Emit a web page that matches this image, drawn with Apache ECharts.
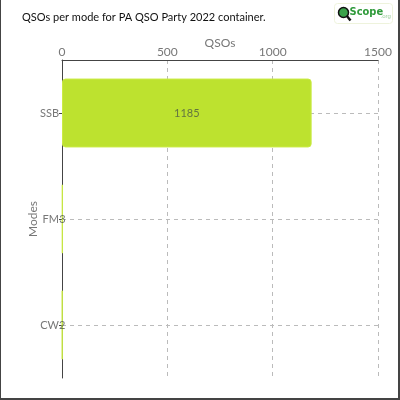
<!DOCTYPE html>
<html><head><meta charset="utf-8">
<script src="https://cdn.jsdelivr.net/npm/echarts@6/dist/echarts.min.js"></script>
<style>
html,body{margin:0;padding:0;background:#fff;}
#c{width:400px;height:400px;box-sizing:border-box;border-left:1px solid #444;border-right:2px solid #444;border-bottom:2px solid #444;}
</style></head>
<body><div id="c"></div>
<script>
const modes = ['SSB', 'FM', 'CW'];
const qsos = [1185, 3, 2];
const xTicks = [0, 500, 1000, 1500];
const titleText = 'QSOs per mode for PA QSO Party 2022 container.';

const FONT = 'Lato';
const chart = echarts.init(document.getElementById('c'), null, {renderer: 'canvas'});
const halfSteps = [];
modes.forEach((m, i) => { halfSteps.push('b' + i); halfSteps.push(m); });
halfSteps.push('end');

chart.setOption({
  animation: false,
  textStyle: {fontFamily: FONT},
  title: {text: titleText, left: 16, top: 7,
    textStyle: {fontFamily: FONT, fontSize: 11, fontWeight: 'normal', color: '#111'}},
  grid: {left: 61, right: 20, top: 60, bottom: 20, containLabel: false},
  xAxis: {
    type: 'value', position: 'top', min: xTicks[0], max: xTicks[xTicks.length - 1], interval: 500,
    name: 'QSOs', nameLocation: 'middle', nameGap: 11, nameMoveOverlap: false,
    nameTextStyle: {color: '#777', fontSize: 12, fontFamily: FONT},
    axisLine: {show: true, lineStyle: {color: '#444', width: 1}},
    axisTick: {show: false},
    axisLabel: {color: '#777', fontSize: 12, margin: 2, fontFamily: FONT, formatter: (v) => String(v)},
    splitLine: {show: true, lineStyle: {color: '#bbb', type: [4, 4]}}
  },
  yAxis: [{
    type: 'category', data: modes, inverse: true,
    name: 'Modes', nameLocation: 'middle', nameGap: 23, nameMoveOverlap: false,
    nameTextStyle: {color: '#777', fontSize: 12, fontFamily: FONT},
    axisLine: {show: true, lineStyle: {color: '#444', width: 1}},
    axisTick: {show: true, alignWithLabel: true, length: 3, lineStyle: {color: '#444'}},
    axisLabel: {color: '#777', fontSize: 11, margin: 3, fontFamily: FONT},
    splitLine: {show: false}
  }, {
    type: 'category', data: halfSteps, boundaryGap: false, inverse: true, position: 'left',
    axisLine: {show: false}, axisTick: {show: false}, axisLabel: {show: false},
    splitLine: {show: true, interval: (i) => i % 2 === 1, lineStyle: {color: '#bbb', type: [4, 4]}}
  }],
  series: [{
    type: 'bar', yAxisIndex: 0, data: qsos, barCategoryGap: '35%',
    itemStyle: {color: '#bde22f', borderColor: '#cbeb45', borderWidth: 1, borderRadius: 3},
    label: {show: true, position: 'inside', color: 'rgba(70,80,70,0.75)', fontSize: 11, fontFamily: FONT}
  }],
  graphic: [{
    type: 'group', left: 333, top: 3, children: [
      {type: 'rect', shape: {x: 0, y: 0, width: 58, height: 20, r: 3}, style: {fill: '#fff', stroke: '#eef3dc', lineWidth: 1}},
      {type: 'line', shape: {x1: 12, y1: 12, x2: 16, y2: 17}, style: {stroke: '#111', lineWidth: 2.5}},
      {type: 'circle', shape: {cx: 9, cy: 9, r: 5}, style: {fill: '#3aa24a', stroke: '#111', lineWidth: 1.5}},
      {type: 'text', x: 15, y: 3, style: {text: 'Scope', fill: '#2f9a3a', font: 'bold 11px "DejaVu Sans Condensed", sans-serif'}},
      {type: 'text', x: 46, y: 10, style: {text: '.org', fill: '#9c9', font: '6px sans-serif'}}
    ]
  }]
});
</script></body></html>
